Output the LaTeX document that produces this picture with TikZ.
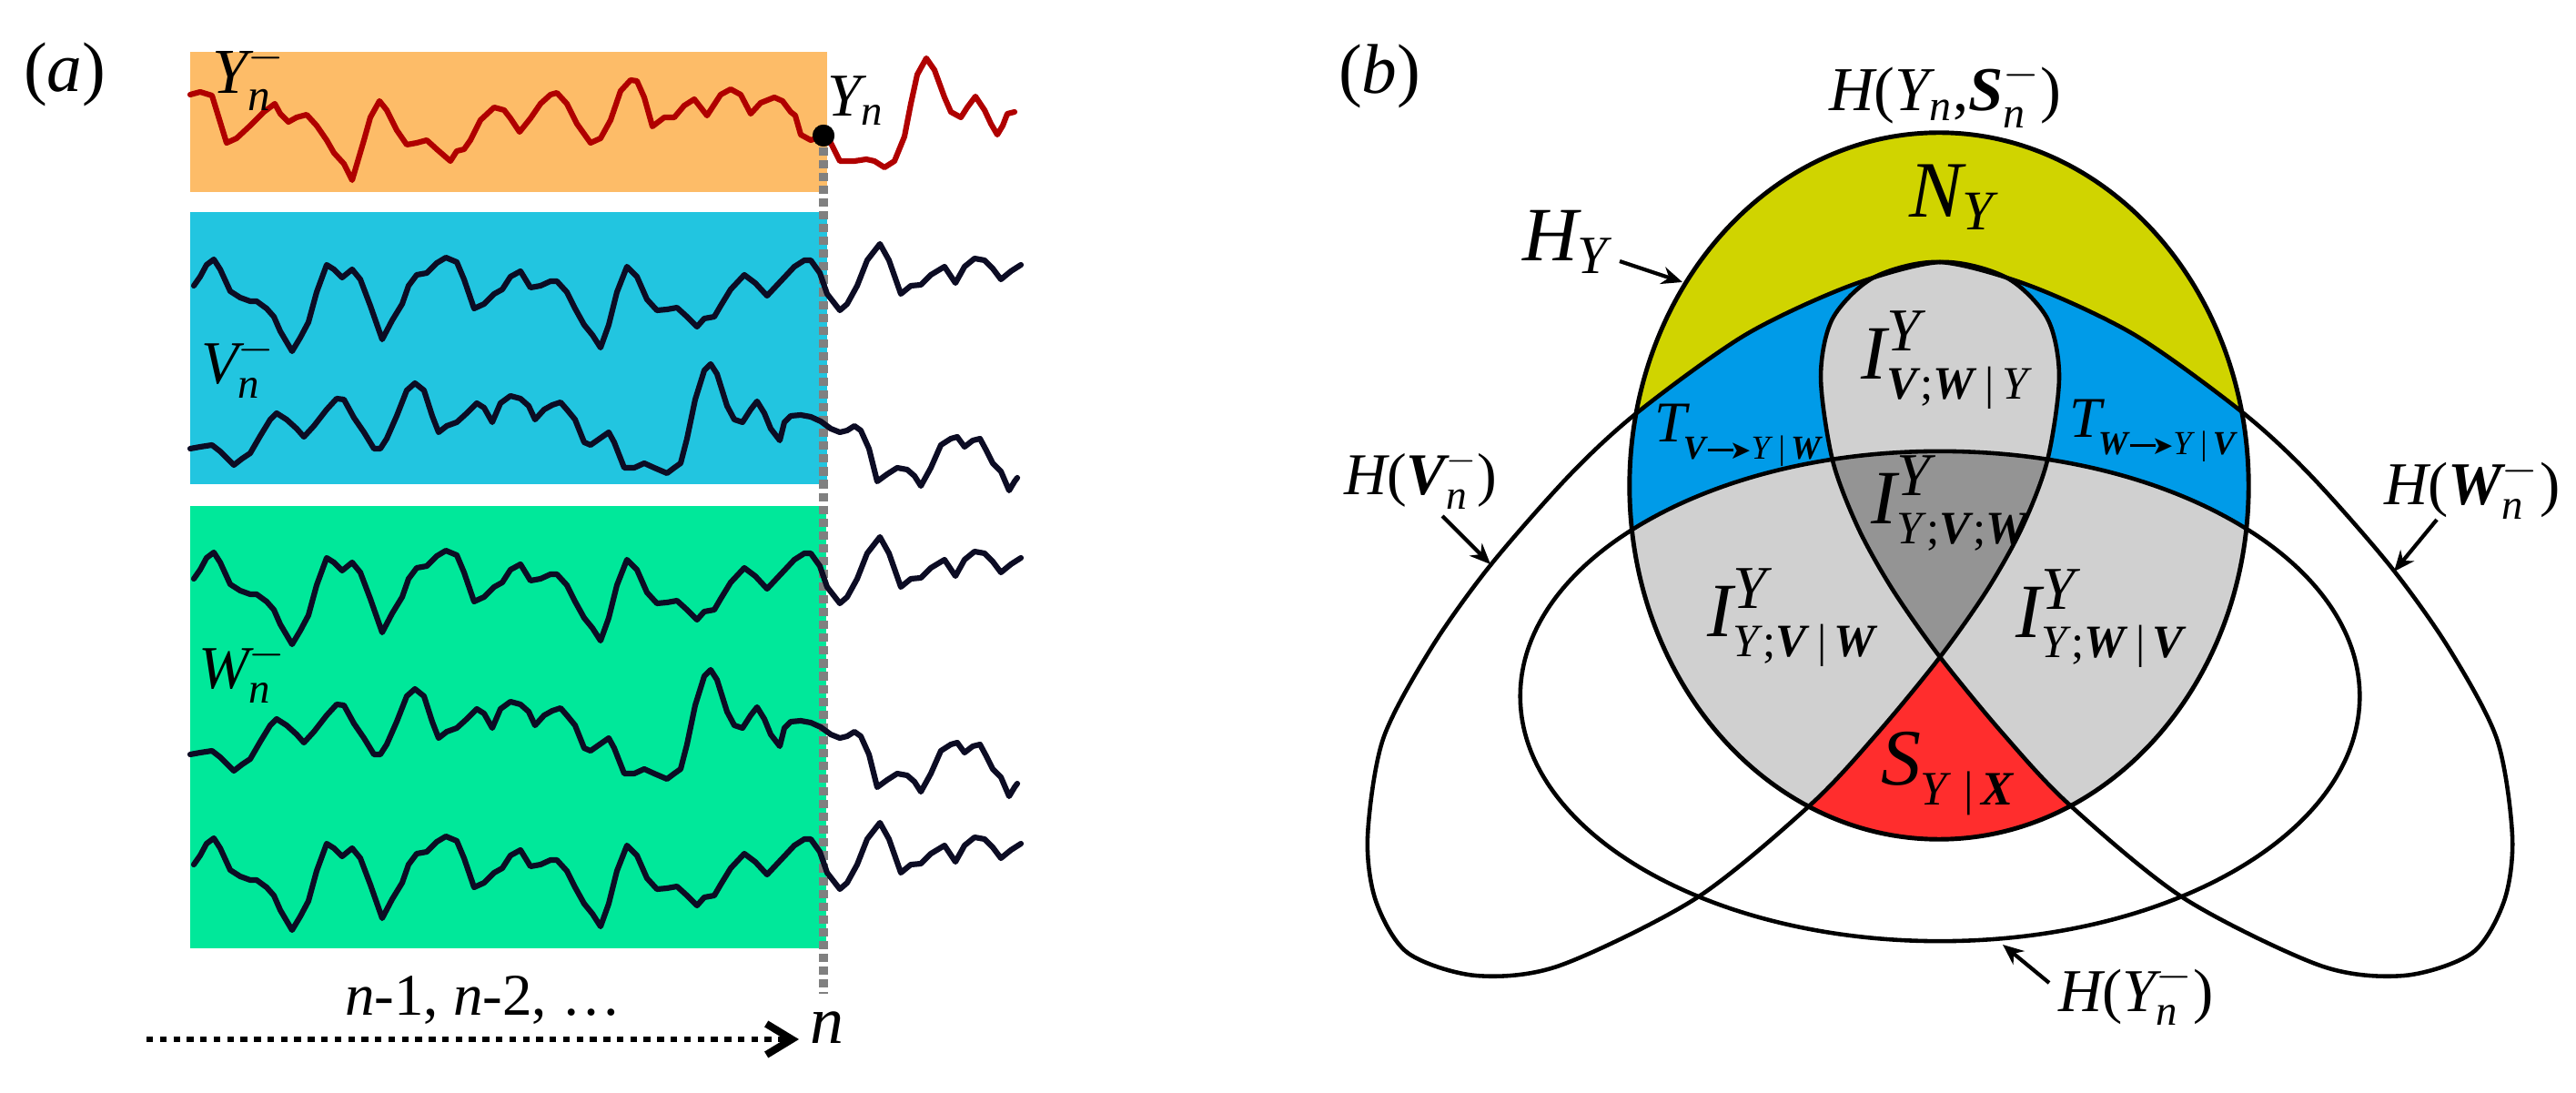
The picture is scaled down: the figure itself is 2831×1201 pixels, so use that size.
\documentclass[tikz,border=0pt]{standalone}
\usepackage{amsmath}
\usepackage{fontspec}
\setmainfont{Liberation Serif}
\newfontfamily\djv{DejaVu Sans}
\usetikzlibrary{arrows.meta}
\definecolor{corange}{RGB}{253,188,104}
\definecolor{ccyan}{RGB}{34,197,224}
\definecolor{cgreen}{RGB}{0,232,154}
\definecolor{cdred}{RGB}{176,0,0}
\definecolor{cnavy}{RGB}{12,12,36}
\definecolor{cyel}{RGB}{208,212,0}
\definecolor{cblue}{RGB}{0,155,232}
\definecolor{clgray}{RGB}{208,208,208}
\definecolor{cdgray}{RGB}{148,148,148}
\definecolor{cred}{RGB}{255,45,45}
\definecolor{cdash}{RGB}{128,128,128}
\newcommand{\fsz}[1]{\fontsize{#1}{#1}\selectfont}
\newcommand{\mi}[1]{\text{\normalfont\itshape #1}}
\newcommand{\mb}[1]{\text{\normalfont\bfseries\itshape #1}}
\newcommand{\mr}[1]{\text{\normalfont #1}}
\newcommand{\bi}[1]{\textbf{\textit{#1}}}
\newcommand{\supY}{\text{\normalfont\fsz{19}\itshape Y}}
\newcommand{\subt}[1]{\text{\normalfont\fsz{14.5}#1}}
\newcommand{\sarr}{\rule[2.5pt]{8pt}{0.8pt}\kern-1.2pt{\djv\fsz{8}➤}}
\tikzset{
 lab/.style={inner sep=0pt, outer sep=0pt, anchor=base west},
 sigline/.style={line width=1.75pt, line join=round, line cap=round, draw=cnavy},
 sigred/.style={line width=1.75pt, line join=round, line cap=round, draw=cdred},
 outl/.style={draw=black, line width=1.3pt},
 lblarr/.style={-{Stealth[length=6.5pt,width=5.5pt]}, line width=1.2pt},
 timearr/.style={line width=1.8pt, dash pattern=on 2.1pt off 2.1pt, -{Straight Barb[length=2.8mm,width=3.4mm,line width=2.3pt]}},
 nowline/.style={draw=cdash, line width=2.8pt, dash pattern=on 2.6pt off 1.4pt},
}
\def\sigRed{(209,104) -- (220,101) -- (233,105) -- (249,157) -- (260,152) -- (275,138) -- (290,123) -- (302,114) -- (308,125) -- (317,134) -- (326,129) -- (337,126) -- (348,138) -- (359,154) -- (367,168) -- (378,180) -- (387,198) -- (400,154) -- (407,129) -- (417,111) -- (425,121) -- (436,143) -- (447,159) -- (458,157) -- (469,154) -- (480,164) -- (495,177) -- (502,166) -- (510,164) -- (517,154) -- (528,132) -- (543,118) -- (554,121) -- (561,130) -- (571,145) -- (583,130) -- (594,114) -- (605,104) -- (612,102) -- (623,114) -- (634,136) -- (649,157) -- (660,152) -- (671,132) -- (682,100) -- (693,88) -- (700,89) -- (708,107) -- (717,139) -- (730,129) -- (741,129) -- (752,116) -- (763,109) -- (777,127) -- (792,104) -- (803,98) -- (814,104) -- (825,125) -- (836,113) -- (851,107) -- (860,111) -- (869,123) -- (874,127) -- (880,148) -- (891,154) -- (906,149) -- (913,157) -- (923,177) -- (939,177) -- (952,175) -- (961,177) -- (972,184) -- (983,177) -- (994,150) -- (1001,114) -- (1008,82) -- (1018,64) -- (1027,77) -- (1038,107) -- (1045,123) -- (1056,129) -- (1063,118) -- (1072,106) -- (1082,121) -- (1089,136) -- (1096,148) -- (1102,138) -- (1107,125) -- (1115,123)}
\def\sigA{(213,314) -- (220,304) -- (227,291) -- (235,285) -- (242,296) -- (253,320) -- (264,327) -- (275,331) -- (282,331) -- (293,339) -- (301,348) -- (308,364) -- (321,386) -- (330,371) -- (339,354) -- (348,321) -- (359,291) -- (367,296) -- (376,305) -- (387,296) -- (396,307) -- (407,336) -- (420,373) -- (431,352) -- (442,334) -- (449,314) -- (458,302) -- (469,300) -- (480,289) -- (490,283) -- (502,288) -- (510,307) -- (521,339) -- (532,334) -- (543,323) -- (552,318) -- (561,304) -- (572,298) -- (583,316) -- (594,314) -- (605,309) -- (612,309) -- (623,321) -- (632,339) -- (642,357) -- (651,368) -- (660,382) -- (669,357) -- (678,321) -- (689,293) -- (700,304) -- (711,329) -- (722,341) -- (733,340) -- (744,338) -- (755,348) -- (766,359) -- (774,350) -- (785,348) -- (792,336) -- (803,318) -- (818,302) -- (830,311) -- (843,325) -- (858,309) -- (873,293) -- (884,286) -- (891,286) -- (901,300) -- (909,323) -- (923,341) -- (931,334) -- (942,314) -- (953,286) -- (967,268) -- (977,286) -- (990,323) -- (1001,314) -- (1012,313) -- (1023,302) -- (1038,293) -- (1050,311) -- (1060,293) -- (1071,284) -- (1082,286) -- (1091,295) -- (1100,307) -- (1111,298) -- (1122,291)}
\def\sigB{(209,493) -- (220,491) -- (233,489) -- (242,496) -- (257,511) -- (266,504) -- (275,498) -- (286,479) -- (297,461) -- (304,454) -- (315,461) -- (326,471) -- (334,480) -- (345,468) -- (359,450) -- (370,438) -- (378,439) -- (389,459) -- (400,475) -- (411,493) -- (418,493) -- (425,482) -- (436,457) -- (447,429) -- (456,421) -- (466,429) -- (475,457) -- (482,475) -- (491,468) -- (502,464) -- (513,454) -- (524,443) -- (532,448) -- (541,464) -- (550,443) -- (561,435) -- (572,438) -- (581,446) -- (588,461) -- (598,450) -- (607,445) -- (616,442) -- (623,450) -- (632,461) -- (642,486) -- (649,489) -- (659,482) -- (669,475) -- (675,486) -- (686,514) -- (697,514) -- (708,509) -- (719,514) -- (733,520) -- (741,514) -- (748,509) -- (755,482) -- (764,439) -- (774,407) -- (781,400) -- (788,411) -- (799,446) -- (807,461) -- (816,464) -- (825,450) -- (832,441) -- (840,454) -- (847,471) -- (857,484) -- (862,464) -- (869,457) -- (880,456) -- (891,458) -- (902,463) -- (913,471) -- (923,475) -- (931,473) -- (939,468) -- (946,473) -- (955,493) -- (964,529) -- (975,521) -- (986,514) -- (997,516) -- (1005,523) -- (1012,534) -- (1023,514) -- (1034,489) -- (1045,482) -- (1052,480) -- (1060,491) -- (1069,484) -- (1077,482) -- (1084,495) -- (1091,509) -- (1100,518) -- (1109,539) -- (1115,529) -- (1118,525)}
\def\shE{(2131,534) ellipse [x radius=3.40cm, y radius=3.88cm]}
\def\shL{(2132,765) ellipse [x radius=4.61cm, y radius=2.69cm]}
\def\shV{plot[smooth cycle] coordinates {(2132,288) (2205,305) (2250,350) (2263,414) (2250,506) (2222,580) (2184,648) (2132,722) (2063,806) (1990,884) (1864,987) (1714,1061) (1622,1072) (1547,1047) (1512,990) (1503,919) (1520,812) (1573,712) (1638,621) (1726,521) (1801,452) (1918,368) (2033,314)}}
\def\shW{plot[smooth cycle] coordinates {(2132,288) (2231,314) (2346,368) (2463,452) (2538,521) (2626,621) (2691,712) (2744,812) (2761,919) (2752,990) (2717,1047) (2642,1072) (2550,1061) (2400,987) (2274,884) (2201,806) (2132,722) (2080,648) (2042,580) (2014,506) (2001,414) (2014,350) (2059,305)}}
\begin{document}
\begin{tikzpicture}[x=0.01cm,y=-0.01cm]
\useasboundingbox (0,0) rectangle (2831,1201);
% ---------------- panel (a)
\fill[corange] (209,57) rectangle (909,211);
\fill[ccyan] (209,233) rectangle (909,532);
\fill[cgreen] (209,556) rectangle (908,1042);
\node[circle, fill=black, inner sep=0pt, minimum size=0.24cm] (dot) at (905,149) {};
\coordinate (nowend) at (905,1092);
\draw[nowline] (dot.south) -- (nowend);
\draw[sigred] \sigRed;
\draw[sigline] \sigA;
\draw[sigline, shift={(0,322)}] \sigA;
\draw[sigline, shift={(0,636)}] \sigA;
\draw[sigline] \sigB;
\draw[sigline, shift={(0,336)}] \sigB;
\node[circle, fill=black, inner sep=0pt, minimum size=0.24cm] at (dot) {};
\node[lab, font=\fsz{22}] (la) at (26,101) {(\textit{a})};
\node[lab, font=\fsz{20}] (lYm) at (233,103) {$\mi{Y}^{-}_{\mi{n}}$};
\node[lab, font=\fsz{19}] (lYn) at (909,128) {$\mi{Y}_{\mi{n}}$};
\node[lab, font=\fsz{19}] (lVm) at (221,422) {$\mi{V}^{-}_{\mi{n}}$};
\node[lab, font=\fsz{19}] (lWm) at (218,757) {$\mi{W}^{-}_{\mi{n}}$};
\node[lab, font=\fsz{18.5}] (lpast) at (379,1115) {\textit{n}-1, \textit{n}-2, …};
\coordinate (tstart) at (161,1142);
\coordinate (tend) at (878,1142);
\draw[timearr] (tstart) -- (tend);
\node[lab, font=\fsz{21}] (lnow) at (890,1146) {\textit{n}};
% ---------------- panel (b)
\fill[cyel] \shE;
\begin{scope}
  \clip \shE;
  \fill[cblue] \shV;
  \fill[cblue] \shW;
  \begin{scope}
    \clip \shV;
    \fill[clgray] \shW;
  \end{scope}
  \begin{scope}
    \clip \shL;
    \fill[cred] \shL;
    \fill[clgray] \shV;
    \fill[clgray] \shW;
    \begin{scope}
      \clip \shV;
      \fill[cdgray] \shW;
    \end{scope}
  \end{scope}
\end{scope}
\draw[outl] \shL;
\draw[outl] \shV;
\draw[outl] \shW;
\draw[outl, line width=1.4pt] \shE;
\node[lab, font=\fsz{22}] (lb) at (1471,103) {(\textit{b})};
\node[lab, font=\fsz{19.5}] (lHYS) at (2010,122) {$\mi{H}\mr{(}\mi{Y}_{\mi{n}}\mr{,}\mb{S}^{-}_{\mi{n}}\mr{)}$};
\node[lab, font=\fsz{25}] (lNY) at (2098,239) {$\mi{N}_{\mi{Y}}$};
\node[lab, font=\fsz{24}] (lHY) at (1673,287) {$\mi{H}_{\mi{Y}}$};
\node[lab, font=\fsz{24}] (lIVWY) at (2045,417) {$\mi{I}^{\supY}_{\subt{\bi{V};\bi{W}\,|\,\textit{Y}}}$};
\node[lab, font=\fsz{18}] (lTV) at (1818,486) {\textit{T}\kern-2pt\raisebox{-5.4pt}{\fsz{10.5}\bi{V}\sarr\textit{Y}\,|\,\bi{W}}};
\node[lab, font=\fsz{18}] (lTW) at (2274,481) {\textit{T}\kern-2pt\raisebox{-5.4pt}{\fsz{10.5}\bi{W}\sarr\textit{Y}\,|\,\bi{V}}};
\node[lab, font=\fsz{24}] (lIYVW) at (2056,576) {$\mi{I}^{\supY}_{\subt{\textit{Y};\bi{V};\bi{W}}}$};
\node[lab, font=\fsz{24}] (lIYVgW) at (1876,700) {$\mi{I}^{\supY}_{\subt{\textit{Y};\bi{V}\,|\,\bi{W}}}$};
\node[lab, font=\fsz{24}] (lIYWgV) at (2215,701) {$\mi{I}^{\supY}_{\subt{\textit{Y};\bi{W}\,|\,\bi{V}}}$};
\node[lab, font=\fsz{25}] (lS) at (2067,862) {\textit{S}\raisebox{-6.3pt}{\fsz{15}\textit{Y}\ |\,\bi{X}}};
\node[lab, font=\fsz{18.5}] (lHV) at (1477,544) {$\mi{H}\mr{(}\mb{V}^{-}_{\mi{n}}\mr{)}$};
\node[lab, font=\fsz{19}] (lHW) at (2620,555) {$\mi{H}\mr{(}\mb{W}^{-}_{\mi{n}}\mr{)}$};
\node[lab, font=\fsz{19}] (lHYm) at (2262,1111) {$\mi{H}\mr{(}\mi{Y}^{-}_{\mi{n}}\mr{)}$};
\coordinate (aHYs) at (1780,287);
\coordinate (aHYe) at (1849,310);
\coordinate (aHVs) at (1585,567);
\coordinate (aHVe) at (1638,620);
\coordinate (aHWs) at (2678,571);
\coordinate (aHWe) at (2631,628);
\coordinate (aHYms) at (2252,1080);
\coordinate (aHYme) at (2201,1038);
\draw[lblarr] (aHYs) -- (aHYe);
\draw[lblarr] (aHVs) -- (aHVe);
\draw[lblarr] (aHWs) -- (aHWe);
\draw[lblarr] (aHYms) -- (aHYme);
\end{tikzpicture}
\end{document}
